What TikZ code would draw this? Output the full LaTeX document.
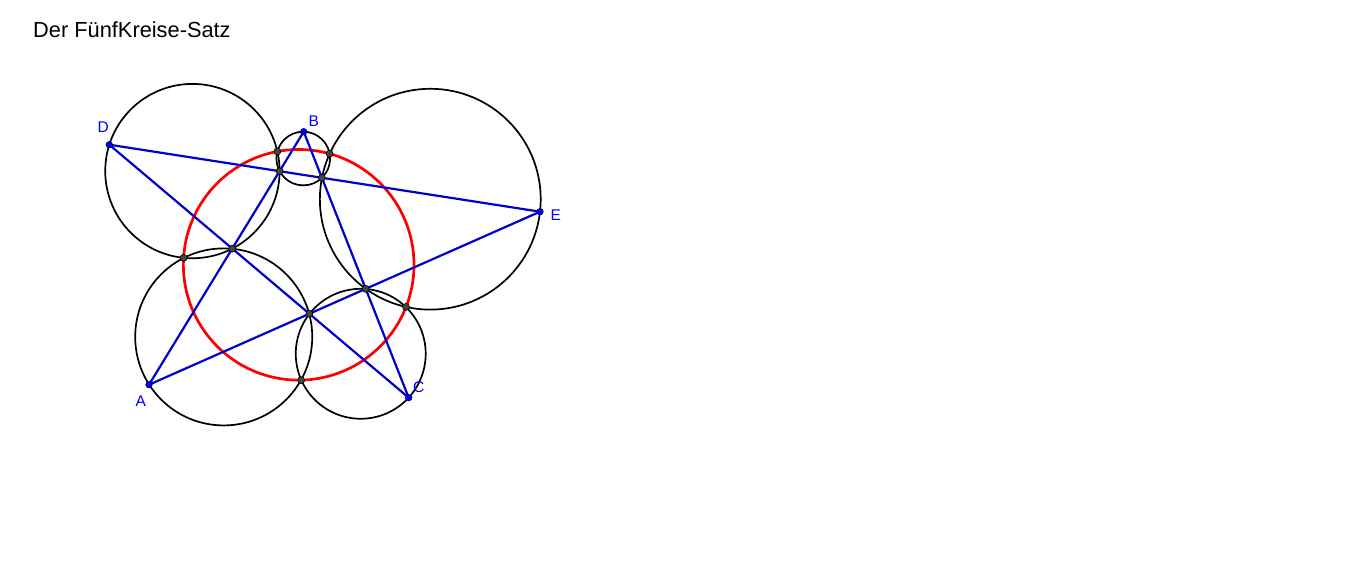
\documentclass[tikz,border=0pt]{standalone}
\usepackage{fontspec}
\setmainfont{Liberation Sans}
\usetikzlibrary{calc}
\definecolor{lineblue}{RGB}{0,0,204}
\definecolor{ptblue}{RGB}{0,0,255}
\definecolor{dotgray}{RGB}{68,68,68}
\definecolor{labblue}{RGB}{0,0,255}
\newcommand{\mkcenter}[4]{%
  \coordinate (#1m1) at ($(#2)!0.5!(#3)$);
  \coordinate (#1n1) at ($(#2)!0.5!(#3)!1!90:(#3)$);
  \coordinate (#1m2) at ($(#3)!0.5!(#4)$);
  \coordinate (#1n2) at ($(#3)!0.5!(#4)!1!90:(#4)$);
  \coordinate (#1) at (intersection of #1m1--#1n1 and #1m2--#1n2);
}
\newcommand{\mkmiquel}[4]{% name, center1, common point, center2
  \coordinate (#1f) at ($(#2)!(#3)!(#4)$);
  \coordinate (#1) at ($(#3)!2!(#1f)$);
}
\tikzset{
  circ/.style={draw=black, line width=1.7pt},
  redcirc/.style={draw=red, line width=2.7pt},
  seg/.style={draw=lineblue, line width=2.2pt},
  vpt/.style={circle, fill=ptblue, draw=black!70!blue, line width=0.6pt, inner sep=0pt, minimum size=6.5pt},
  ipt/.style={circle, fill=dotgray, draw=black, line width=0.6pt, inner sep=0pt, minimum size=7pt},
  lab/.style={text=labblue, font=\fontsize{15.5}{18}\selectfont, inner sep=0pt, anchor=base west},
  title/.style={text=black, font=\fontsize{21.8}{25}\selectfont, inner sep=0pt, anchor=base west}
}
\begin{document}
\begin{tikzpicture}[x=1pt,y=-1pt]
\useasboundingbox (0,0) rectangle (1366,568);
% vertices
\coordinate (A) at (149,384.7);
\coordinate (B) at (303.7,131.7);
\coordinate (C) at (408.7,397.7);
\coordinate (D) at (109.3,144.7);
\coordinate (E) at (540,211.7);
% inner pentagon
\coordinate (Pdb) at (intersection of D--E and A--B);
\coordinate (Pbe) at (intersection of D--E and B--C);
\coordinate (Pec) at (intersection of A--E and B--C);
\coordinate (Pca) at (intersection of A--E and D--C);
\coordinate (Pad) at (intersection of D--C and A--B);
% circumcentres
\mkcenter{Od}{D}{Pdb}{Pad}
\mkcenter{Ob}{B}{Pdb}{Pbe}
\mkcenter{Oe}{E}{Pbe}{Pec}
\mkcenter{Oc}{C}{Pec}{Pca}
\mkcenter{Oa}{A}{Pca}{Pad}
% Miquel points
\mkmiquel{Mdb}{Od}{Pdb}{Ob}
\mkmiquel{Mbe}{Ob}{Pbe}{Oe}
\mkmiquel{Mec}{Oe}{Pec}{Oc}
\mkmiquel{Mca}{Oc}{Pca}{Oa}
\mkmiquel{Mad}{Oa}{Pad}{Od}
\mkcenter{Or}{Mdb}{Mec}{Mad}
% circles
\foreach \oo/\vv in {Od/D,Ob/B,Oe/E,Oc/C,Oa/A}{
  \draw[circ] let \p1=($(\vv)-(\oo)$), \n1={veclen(\x1,\y1)} in (\oo) circle[radius=\n1];
}
\draw[redcirc] let \p1=($(Mdb)-(Or)$), \n1={veclen(\x1,\y1)} in (Or) circle[radius=\n1];
% pentagram
\draw[seg] (D) -- (E);
\draw[seg] (D) -- (C);
\draw[seg] (A) -- (B);
\draw[seg] (B) -- (C);
\draw[seg] (A) -- (E);
% points
\foreach \q in {Pdb,Pbe,Pec,Pca,Pad,Mdb,Mbe,Mec,Mca,Mad}{
  \node[ipt] (n\q) at (\q) {};
}
\foreach \q in {A,B,C,D,E}{
  \node[vpt] (n\q) at (\q) {};
}
% labels
\node[lab] (lD) at (97.3,132) {D};
\node[lab] (lB) at (308.3,126) {B};
\node[lab] (lE) at (550.5,220) {E};
\node[lab] (lA) at (135.3,406) {A};
\node[lab] (lC) at (413,392) {C};
\node[title] (ttl) at (33,37.7) {Der FünfKreise-Satz};
\end{tikzpicture}
\end{document}
